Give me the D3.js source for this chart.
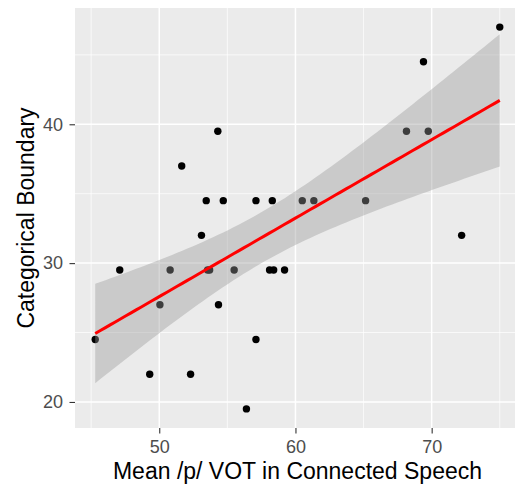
<!DOCTYPE html>
<html>
<head>
<meta charset="utf-8">
<script src="https://cdn.jsdelivr.net/npm/d3@7"></script>
<style>
  body { margin: 0; background: #fff; }
  svg { display: block; overflow: hidden; }
  text { font-family: "Liberation Sans", Arial, sans-serif; }
</style>
</head>
<body>
<div id="chart"></div>
<script>
// mean /p/ VOT in connected speech (ms)
const meanVot = [45.3, 47.1, 49.3, 50.05, 50.8, 51.65, 52.3, 53.1, 53.45, 53.55,
  53.7, 54.3, 54.35, 54.7, 55.5, 56.4, 57.1, 57.1, 58.1, 58.3,
  58.4, 59.2, 60.5, 61.35, 65.15, 68.15, 69.4, 69.75, 72.2, 75.0]
// categorical boundary
const boundary = [24.5, 29.5, 22, 27, 29.5, 37, 22, 32, 34.5, 29.5,
  29.5, 39.5, 27, 34.5, 29.5, 19.5, 24.5, 34.5, 29.5, 34.5,
  29.5, 29.5, 34.5, 34.5, 34.5, 39.5, 44.5, 39.5, 32, 47]
const xTicks = [50, 60, 70]
const yTicks = [20, 30, 40]

const width = 515, height = 486
const margin = { top: 8, right: -5, bottom: 58, left: 75 }

const data = meanVot.map((x, i) => ({ x, y: boundary[i] }))

const svg = d3.select('#chart').append('svg')
  .attr('width', width)
  .attr('height', height)

// ggplot style 5% expansion
const expand = ([a, b]) => [a - (b - a) * 0.05, b + (b - a) * 0.05]
const x = d3.scaleLinear()
  .domain(expand(d3.extent(meanVot)))
  .range([margin.left, width - margin.right])
const y = d3.scaleLinear()
  .domain(expand(d3.extent(boundary)))
  .range([height - margin.bottom, margin.top])

const panel = svg.append('g')
panel.append('rect')
  .attr('x', x.range()[0]).attr('y', y.range()[1])
  .attr('width', x.range()[1] - x.range()[0])
  .attr('height', y.range()[0] - y.range()[1])
  .attr('fill', '#ebebeb')

// minor grid halfway between majors
const minorX = d3.range(45, 80, 10), minorY = d3.range(15, 50, 10)
panel.selectAll('.minor-x').data(minorX.filter(v => x(v) > x.range()[0]))
  .join('line')
  .attr('x1', d => x(d)).attr('x2', d => x(d))
  .attr('y1', y.range()[0]).attr('y2', y.range()[1])
  .attr('stroke', '#fff').attr('stroke-width', 0.7)
panel.selectAll('.minor-y').data(minorY.filter(v => y(v) > y.range()[1] && y(v) < y.range()[0]))
  .join('line')
  .attr('y1', d => y(d)).attr('y2', d => y(d))
  .attr('x1', x.range()[0]).attr('x2', x.range()[1])
  .attr('stroke', '#fff').attr('stroke-width', 0.7)
panel.selectAll('.major-x').data(xTicks).join('line')
  .attr('x1', d => x(d)).attr('x2', d => x(d))
  .attr('y1', y.range()[0]).attr('y2', y.range()[1])
  .attr('stroke', '#fff').attr('stroke-width', 1.5)
panel.selectAll('.major-y').data(yTicks).join('line')
  .attr('y1', d => y(d)).attr('y2', d => y(d))
  .attr('x1', x.range()[0]).attr('x2', x.range()[1])
  .attr('stroke', '#fff').attr('stroke-width', 1.5)

// points first, smooth layer drawn over them
svg.append('g').selectAll('circle').data(data).join('circle')
  .attr('cx', d => x(d.x)).attr('cy', d => y(d.y))
  .attr('r', 3.7).attr('fill', '#000')

// linear fit with 95% confidence band (like geom_smooth(method = "lm"))
const n = data.length
const mx = d3.mean(meanVot), my = d3.mean(boundary)
const sxx = d3.sum(meanVot, v => (v - mx) ** 2)
const slope = d3.sum(data, d => (d.x - mx) * (d.y - my)) / sxx
const intercept = my - slope * mx
const sse = d3.sum(data, d => (d.y - intercept - slope * d.x) ** 2)
const se = Math.sqrt(sse / (n - 2))
const tCrit = 2.048 // t(0.975, df = 28)

const [x0, x1] = d3.extent(meanVot)
const fit = d3.range(80).map(i => {
  const xv = x0 + (x1 - x0) * i / 79
  const yhat = intercept + slope * xv
  const half = tCrit * se * Math.sqrt(1 / n + (xv - mx) ** 2 / sxx)
  return { x: xv, y: yhat, lo: yhat - half, hi: yhat + half }
})

svg.append('path').datum(fit)
  .attr('d', d3.area().x(d => x(d.x)).y0(d => y(d.lo)).y1(d => y(d.hi)))
  .attr('fill', '#999').attr('fill-opacity', 0.4)
svg.append('path').datum(fit)
  .attr('d', d3.line().x(d => x(d.x)).y(d => y(d.y)))
  .attr('fill', 'none').attr('stroke', 'red').attr('stroke-width', 3)

// axes
const xAxis = svg.append('g')
  .attr('transform', `translate(0,${y.range()[0]})`)
  .call(d3.axisBottom(x).tickValues(xTicks).tickSize(5.5).tickPadding(7))
const yAxis = svg.append('g')
  .attr('transform', `translate(${x.range()[0]},0)`)
  .call(d3.axisLeft(y).tickValues(yTicks).tickSize(5.5).tickPadding(6.5))
for (const ax of [xAxis, yAxis]) {
  ax.select('.domain').remove()
  ax.selectAll('line').attr('stroke', '#333').attr('stroke-width', 1.1)
  ax.selectAll('text').attr('fill', '#4d4d4d').attr('font-size', 18)
    .attr('font-family', '"Liberation Sans", Arial, sans-serif')
}

const cx = (x.range()[0] + x.range()[1]) / 2
svg.append('text')
  .attr('x', cx).attr('y', 479)
  .attr('text-anchor', 'middle').attr('font-size', 23)
  .text('Mean /p/ VOT in Connected Speech')
svg.append('text')
  .attr('transform', `translate(34,${(y.range()[0] + y.range()[1]) / 2}) rotate(-90)`)
  .attr('text-anchor', 'middle').attr('font-size', 23)
  .text('Categorical Boundary')
</script>
</body>
</html>
